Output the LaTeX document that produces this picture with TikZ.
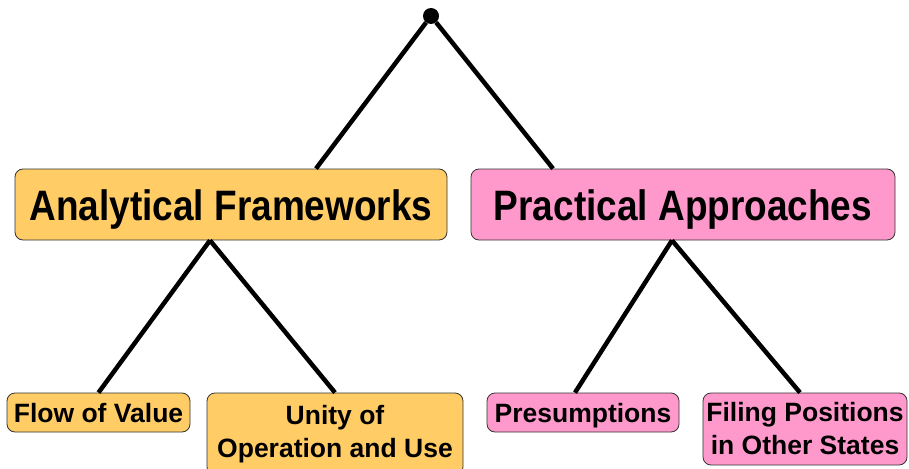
\documentclass[tikz,border=0pt]{standalone}
\usepackage{fontspec}
\setmainfont{Liberation Sans}
\usetikzlibrary{positioning}
\definecolor{afyellow}{HTML}{FFCC66}
\definecolor{papink}{HTML}{FF99CC}
\newcommand{\tallword}[1]{\scalebox{1}[1.15]{#1}}

\begin{document}
\begin{tikzpicture}[x=1pt,y=-1pt,
   box/.style={draw=black!80,line width=0.8pt,rounded corners=8pt,inner sep=0pt},
   big/.style={box,minimum height=71pt,text height=31pt,text depth=0pt,font=\bfseries\fontsize{37}{40}\selectfont},
   small/.style={box,align=center,font=\bfseries\fontsize{26.5}{33}\selectfont},
   oneline/.style={small,minimum height=39pt,text height=19pt,text depth=0pt},
   branch/.style={line width=4.5pt}]
   \useasboundingbox (0,0) rectangle (909,468);
   \node[fill=black,circle,inner sep=0pt,minimum size=16pt] (root) at (431,16) {};
   \node[big,fill=afyellow,minimum width=432pt] (af) at (231,204.5) {\tallword{Analytical Frameworks}};
   \node[big,fill=papink,minimum width=424pt] (pa) at (683,204.5) {\tallword{Practical Approaches}};
   \node[oneline,fill=afyellow,minimum width=183pt] (flow) at (98.5,412.5) {Flow of Value};
   \node[small,fill=afyellow,minimum width=256pt,minimum height=82pt] (unity) at (335,434) {Unity of\\Operation and Use};
   \node[oneline,fill=papink,minimum width=192pt] (pres) at (583,412.5) {Presumptions};
   \node[small,fill=papink,minimum width=204pt,minimum height=72pt] (filing) at (805,429) {Filing Positions\\in Other States};
   \draw[branch] (root) -- ([xshift=85pt]af.north);
   \draw[branch] (root) -- ([xshift=-130pt]pa.north);
   \draw[branch] ([xshift=-21pt]af.south) -- (flow.north);
   \draw[branch] ([xshift=-21pt]af.south) -- (unity.north);
   \draw[branch] ([xshift=-11pt]pa.south) -- ([xshift=-8pt]pres.north);
   \draw[branch] ([xshift=-11pt]pa.south) -- ([xshift=-5pt]filing.north);
\end{tikzpicture}
\end{document}
